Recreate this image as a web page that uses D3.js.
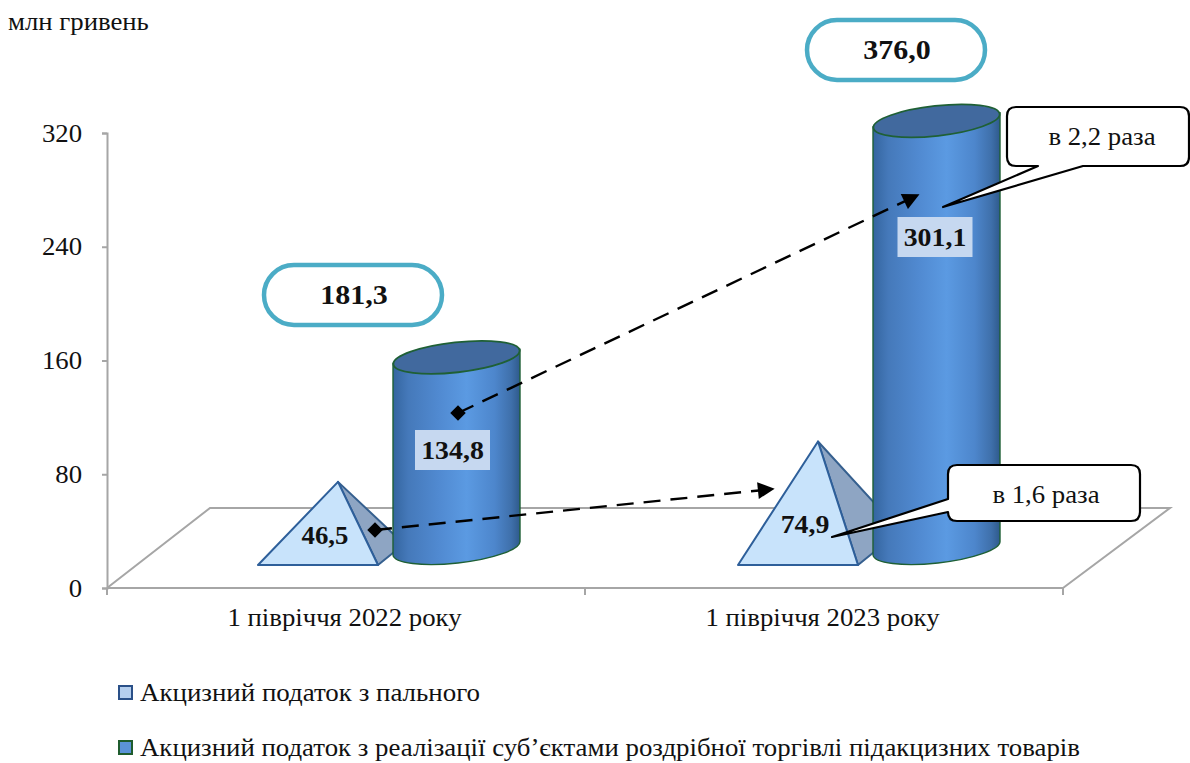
<!DOCTYPE html>
<html><head><meta charset="utf-8">
<script src="https://cdn.jsdelivr.net/npm/d3@7/dist/d3.min.js"></script>
<style>
html,body{margin:0;padding:0;background:#fff;overflow:hidden}
text{font-family:"Liberation Serif",serif;fill:#111}
</style></head><body><svg id="c" width="1190" height="763"></svg>
<script>
const categories = ["1 півріччя 2022 року", "1 півріччя 2023 року"];
const fuelTax = [46.5, 74.9];
const retailTax = [134.8, 301.1];
const totals = [181.3, 376.0];
const ratioLabels = ["в 1,6 раза", "в 2,2 раза"];
const yTicks = [0, 80, 160, 240, 320];
const legendLabels = ["Акцизний податок з пального", "Акцизний податок з реалізації суб’єктами роздрібної торгівлі підакцизних товарів"];
const unitLabel = "млн гривень";
const fmt = v => v.toFixed(1).replace(".", ",");

const svg = d3.select("#c");
const AX = "#a6a6a6";
const x = d3.scaleBand().domain(categories).range([107, 1063]);
const markX = d3.scalePoint().domain(categories).range([347, 827]);
const y = d3.scaleLinear().domain([0, 320]).range([588, 133]);
const DEPTH = 40;                    // floor depth of the 3D plot
const cx = (i, off) => markX(categories[i]) + off;

const defs = svg.append("defs");
const g = defs.append("linearGradient").attr("id", "cyl");
[[0,"#34659f"],[.12,"#4579ba"],[.35,"#5089d0"],[.58,"#5b9ae2"],[.8,"#4d86cc"],[.93,"#3f70ab"],[1,"#2f5a8c"]]
  .forEach(([o,c]) => g.append("stop").attr("offset", o).attr("stop-color", c));
const m = defs.append("marker").attr("id","arrow").attr("viewBox","0 0 10 10").attr("refX",9).attr("refY",5)
  .attr("markerWidth",8).attr("markerHeight",7).attr("markerUnits","strokeWidth").attr("orient","auto");
m.append("path").attr("d","M0,0L10,5L0,10Z").attr("fill","#000");

// floor
svg.append("path")
  .attr("d", `M107,${y(0)}L210,${y(0)-80}L1170,${y(0)-80}L1063,${y(0)}`)
  .attr("fill","#fff").attr("stroke",AX).attr("stroke-width",2);

// axes
const yAxis = svg.append("g").attr("transform","translate(107,0)")
  .call(d3.axisLeft(y).tickValues(yTicks).tickSize(5).tickPadding(20));
const xAxis = svg.append("g").attr("transform",`translate(0,${y(0)})`)
  .call(d3.axisBottom(x).tickSize(0).tickPadding(20));
[yAxis,xAxis].forEach(a => {
  a.selectAll("path.domain,line").attr("stroke",AX).attr("stroke-width",2);
  a.selectAll("text").style("font-family","Liberation Serif").attr("fill","#111").style("font-size","25px");
});
xAxis.select("path.domain").attr("d",`M107,0H1063`);
xAxis.selectAll("text").attr("dx",-1.5);
svg.append("g").selectAll("line").data([0,1,2]).join("line")
  .attr("x1",i=>107+i*x.step()).attr("x2",i=>107+i*x.step())
  .attr("y1",y(0)).attr("y2",y(0)+7).attr("stroke",AX).attr("stroke-width",2);

// pyramids (fuel tax)
const pyr = svg.append("g").selectAll("g").data(fuelTax).join("g");
const pyBase = i => ({l:cx(i,-89), r:cx(i,31), apex:cx(i,-9), front:y(0)-23});
const backDx = [26, 42], backDy = [21, 34];
pyr.append("path").attr("d",(d,i)=>{const p=pyBase(i);
    return `M${p.apex},${y(d)-DEPTH}L${p.r},${p.front}L${p.r+backDx[i]},${p.front-backDy[i]}Z`;})
  .attr("fill","#8ea5c3").attr("stroke","#36608f").attr("stroke-width",2).attr("stroke-linejoin","round");
pyr.append("path").attr("d",(d,i)=>{const p=pyBase(i);
    return `M${p.l},${p.front}L${p.r},${p.front}L${p.apex},${y(d)-DEPTH}Z`;})
  .attr("fill","#c8e3fb").attr("stroke","#2e5f9a").attr("stroke-width",2).attr("stroke-linejoin","round");

// cylinders (retail tax)
const RX = 63.5, RY = 15, TILT = 6.3, CYL = 109.5;
const dy = RX * Math.sin(TILT*Math.PI/180);
const cyl = svg.append("g").selectAll("g").data(retailTax).join("g");
cyl.append("path").attr("d",(d,i)=>{
    const c = cx(i,CYL), t = y(d)-DEPTH, b = y(0)-DEPTH;
    return `M${c-RX},${t+dy}L${c-RX},${b+dy}A${RX},${RY} ${-TILT} 0 0 ${c+RX},${b-dy}L${c+RX},${t-dy}Z`;
  }).attr("fill","url(#cyl)").attr("stroke","#1f6035").attr("stroke-width",1.4);
cyl.append("ellipse")
  .attr("transform",(d,i)=>`translate(${cx(i,CYL)},${y(d)-DEPTH+1}) rotate(${-TILT})`)
  .attr("rx",RX).attr("ry",RY).attr("fill","#41699e").attr("stroke","#1f6035").attr("stroke-width",1.8);

// dashed growth arrows
[[[375,530],[773,489]],[[458,413],[918,195]]].forEach(([a,b]) => {
  svg.append("line").attr("x1",a[0]).attr("y1",a[1]).attr("x2",b[0]).attr("y2",b[1])
    .attr("stroke","#000").attr("stroke-width",2.4).attr("stroke-dasharray","17 10").attr("marker-end","url(#arrow)");
  svg.append("path").attr("transform",`translate(${a[0]},${a[1]}) rotate(45)`)
    .attr("d","M-5.5,-5.5H5.5V5.5H-5.5Z").attr("fill","#000");
});

// value labels
svg.append("g").selectAll("text").data(fuelTax).join("text")
  .attr("x",(d,i)=>cx(i,[-22,-22][i])).attr("y",(d,i)=>[544,533][i])
  .attr("text-anchor","middle").attr("font-weight","bold").style("font-size",(d,i)=>["25px","26px"][i]).text(fmt);
const rl = svg.append("g").selectAll("g").data(retailTax).join("g")
  .attr("transform",(d,i)=>`translate(${[452.5,935][i]},${[450,237][i]})`);
rl.append("rect").attr("x",-37.5).attr("y",-20).attr("width",75).attr("height",40).attr("fill","#c6d8f0");
rl.append("text").attr("y",9).attr("text-anchor","middle").attr("font-weight","bold").style("font-size","26px").text(fmt);

// totals
const tl = svg.append("g").selectAll("g").data(totals).join("g")
  .attr("transform",(d,i)=>`translate(${[353,896][i]},${[295,50][i]})`);
tl.append("rect").attr("x",-89).attr("y",-30).attr("width",178).attr("height",60).attr("rx",30)
  .attr("fill","#fff").attr("stroke","#4bacc6").attr("stroke-width",4.5);
tl.append("text").attr("x",1).attr("y",9).attr("text-anchor","middle").attr("font-weight","bold").style("font-size","28px").text(fmt);

// callouts
const bubble = (l,t,r,b,R,tail) => {
  const [tx,ty,a,c,side] = tail;
  return side==="bottom"
   ? `M${l+R},${t}H${r-R}Q${r},${t} ${r},${t+R}V${b-R}Q${r},${b} ${r-R},${b}H${c}L${tx},${ty}L${a},${b}H${l+R}Q${l},${b} ${l},${b-R}V${t+R}Q${l},${t} ${l+R},${t}Z`
   : `M${l+R},${t}H${r-R}Q${r},${t} ${r},${t+R}V${b-R}Q${r},${b} ${r-R},${b}H${l+R}Q${l},${b} ${l},${b-R}V${c}L${tx},${ty}L${l},${a}V${t+R}Q${l},${t} ${l+R},${t}Z`;
};
const callouts = [{box:[948,465,1140,521], tail:[832,537,499,512,"left"], tx:1046, ty:503},
                  {box:[1007,107,1189,166], tail:[943,207,1038,1083,"bottom"], tx:1102, ty:145}];
ratioLabels.forEach((t,i)=>{
  const c = callouts[i];
  svg.append("path").attr("d",bubble(...c.box,9,c.tail)).attr("fill","#fff").attr("stroke","#000").attr("stroke-width",2.2).attr("stroke-linejoin","round");
  svg.append("text").attr("x",c.tx).attr("y",c.ty).attr("text-anchor","middle").style("font-size","25px").text(t);
});

// unit
svg.append("text").attr("x",8).attr("y",30).style("font-size","25px").text(unitLabel);

// legend
const lg = svg.append("g").selectAll("g").data(legendLabels).join("g")
  .attr("transform",(d,i)=>`translate(119,${[686,741][i]})`);
lg.append("rect").attr("width",13).attr("height",13)
  .attr("fill",(d,i)=>["#b5cfee","#5b93d8"][i]).attr("stroke",(d,i)=>["#2a5088","#1f5c2e"][i]).attr("stroke-width",2);
lg.append("text").attr("class","lg").attr("x",21).attr("y",15).style("font-size","25px").text(d=>d);

// the reference's text is slightly wider than the font's natural proportions
const legendW = [340, 940];
svg.selectAll("text").each(function(){
  const n = d3.select(this);
  if (n.classed("lg")) return;
  n.attr("textLength", this.getComputedTextLength()*1.07).attr("lengthAdjust","spacingAndGlyphs");
});
svg.selectAll("text.lg").attr("textLength",(d,i)=>legendW[i]).attr("lengthAdjust","spacingAndGlyphs");
</script></body></html>
